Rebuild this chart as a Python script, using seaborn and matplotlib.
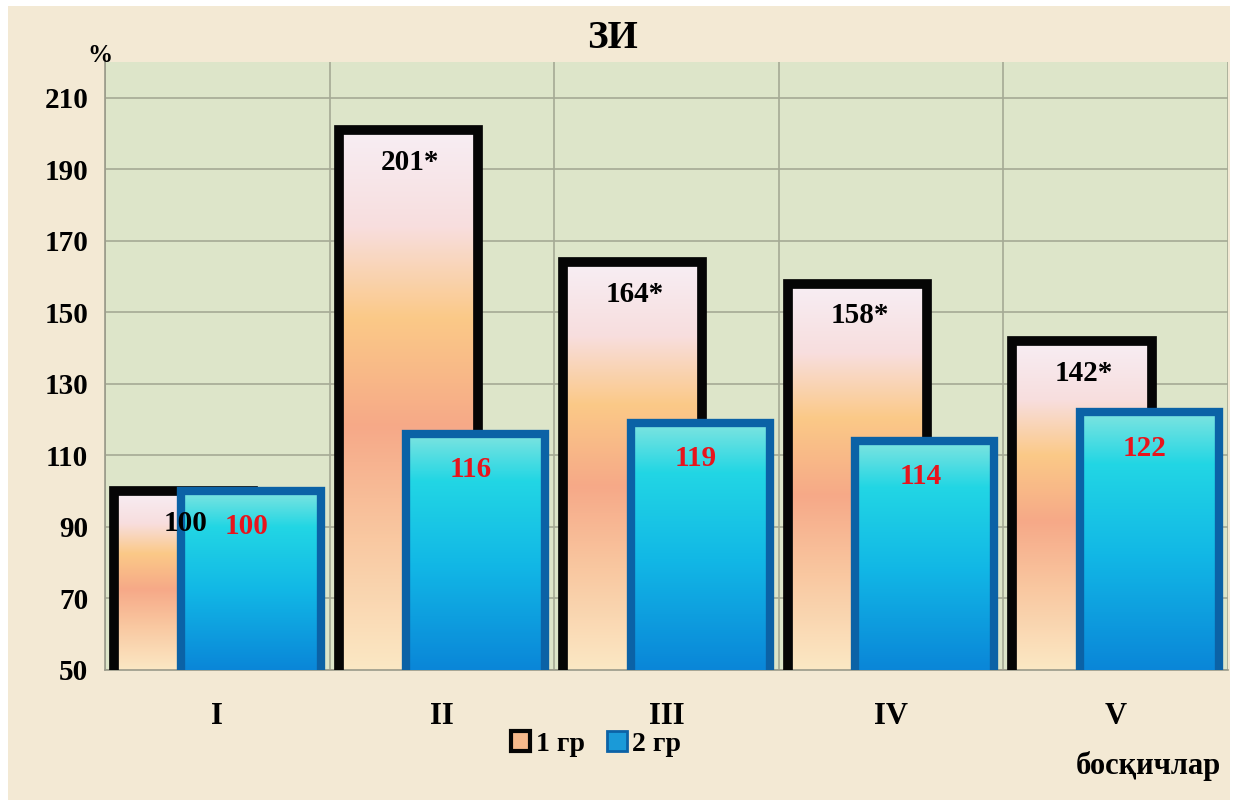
import numpy as np
import pandas as pd
import matplotlib
matplotlib.use("Agg")
import matplotlib.pyplot as plt
import seaborn as sns
from matplotlib.colors import LinearSegmentedColormap
from matplotlib.patches import Rectangle

# ---- data ----
stages = ["I", "II", "III", "IV", "V"]
group_names = ["1 гр", "2 гр"]
group1 = [100, 201, 164, 158, 142]
group2 = [100, 116, 119, 114, 122]
labels1 = ["100", "201*", "164*", "158*", "142*"]
labels2 = ["100", "116", "119", "114", "122"]
yticks = [50, 70, 90, 110, 130, 150, 170, 190, 210]

sns.set_theme(style="white")
plt.rcParams['font.family'] = ['Liberation Serif', 'DejaVu Serif']
plt.rcParams['font.weight'] = 'bold'
plt.rcParams['text.color'] = 'black'
plt.rcParams['xtick.labelcolor'] = 'black'
plt.rcParams['ytick.labelcolor'] = 'black'

df = pd.DataFrame({
    "stage": stages * 2,
    "value": group1 + group2,
    "group": [group_names[0]] * 5 + [group_names[1]] * 5,
})

fig = plt.figure(figsize=(12.38, 8.06), dpi=100)
fig.patch.set_facecolor("white")
fig.add_artist(Rectangle((8 / 1238, 6 / 806), 1222 / 1238, 794 / 806,
                         transform=fig.transFigure, facecolor="#f3e9d4",
                         edgecolor="none", zorder=-10))
ax = fig.add_axes([105 / 1238, (806 - 670) / 806, (1228 - 105) / 1238, (670 - 62) / 806])
ax.set_facecolor("#dde5c9")

sns.barplot(data=df, x="stage", y="value", hue="group", ax=ax, dodge=True,
            width=0.8, palette=["#f7c89a", "#19b4e0"], legend=False,
            saturation=1, zorder=3)

cmap1 = LinearSegmentedColormap.from_list(
    "g1", [(0, "#fbe8c4"), (0.25, "#f9c7a0"), (0.45, "#f6a988"), (0.65, "#fbc987"),
           (0.82, "#f8dede"), (1, "#f7eef4")])
cmap2 = LinearSegmentedColormap.from_list(
    "g2", [(0, "#0a86d8"), (0.45, "#12b8e6"), (0.8, "#22d6e4"), (1, "#7fe4e0")])

bar_w = 0.62
offset = 0.15
patches = list(ax.patches)
n = len(stages)
for i, p in enumerate(patches[:2 * n]):
    g = i // n
    cat = i % n
    center = cat + (-offset if g == 0 else offset)
    p.set_width(bar_w)
    p.set_x(center - bar_w / 2)
    if g == 0:
        p.set_edgecolor("#050505")
        p.set_linewidth(7)
        p.set_zorder(3)
        cm = cmap1
    else:
        p.set_edgecolor("#0b62a6")
        p.set_linewidth(6)
        p.set_zorder(5)
        cm = cmap2
    x0, y0 = p.get_x(), p.get_y()
    h = p.get_height()
    grad = np.linspace(0, 1, 256).reshape(-1, 1)
    im = ax.imshow(grad, cmap=cm, origin="lower", aspect="auto",
                   extent=[x0, x0 + bar_w, 50, y0 + h],
                   zorder=p.get_zorder() - 0.5 if g == 0 else p.get_zorder() - 0.2,
                   interpolation="bilinear")
    im.set_clip_path(p)
    p.set_facecolor("none")
    # value label
    if g == 0:
        ax.text(center + 0.01, y0 + h - 9, labels1[cat], ha="center", va="center",
                fontsize=21, fontweight="bold", color="black", zorder=7)
    else:
        ax.text(center - 0.02, y0 + h - 10, labels2[cat], ha="center", va="center",
                fontsize=21, fontweight="bold", color="#e8141c", zorder=7)

ax.set_xlim(-0.5, 4.5)
ax.set_ylim(50, 220)
ax.set_yticks(yticks)
ax.set_yticklabels([str(v) for v in yticks], fontsize=21, fontweight="bold")
ax.set_xticks(range(n))
ax.set_xticklabels(stages, fontsize=22, fontweight="bold")
ax.set_xticks(np.arange(-0.5, 5.0, 0.5), minor=True)
ax.set_xlabel("")
ax.set_ylabel("")
ax.tick_params(axis="x", which="major", length=0, pad=23, labelcolor="black")
ax.tick_params(axis="x", which="minor", length=6, color="#9a9a8a")
ax.tick_params(axis="y", length=9, color="#9a9a8a", pad=3, labelcolor="black")
ax.grid(True, axis="y", color="#a5aa95", linewidth=1.2, zorder=0)
ax.grid(True, axis="x", which="minor", color="#a5aa95", linewidth=1.2, zorder=0)
ax.set_axisbelow(True)
for s in ["top", "right"]:
    ax.spines[s].set_visible(False)
for s in ["left", "bottom"]:
    ax.spines[s].set_color("#9a9a8a")
    ax.spines[s].set_linewidth(1.2)

fig.text(612 / 1238, 1 - 38 / 806, "ЗИ", ha="center", va="center",
         fontsize=28, fontweight="bold", color="black")
fig.text(100 / 1238, 1 - 55 / 806, "%", ha="center", va="center",
         fontsize=18, fontweight="bold", color="black")
fig.text(1148 / 1238, 1 - 766 / 806, "босқичлар", ha="center", va="center",
         fontsize=22, fontweight="bold", color="black")

handles = [Rectangle((0, 0), 1, 1, facecolor="#f6b98c", edgecolor="#050505", linewidth=3),
           Rectangle((0, 0), 1, 1, facecolor="#1a9ad8", edgecolor="#0b62a6", linewidth=2)]
leg = fig.legend(handles, group_names, loc="center", bbox_to_anchor=(596 / 1238, 1 - 744 / 806),
                 ncol=2, frameon=False, handlelength=0.7, handleheight=0.7,
                 handletextpad=0.2, columnspacing=0.8, borderpad=0.1,
                 prop={"weight": "bold", "size": 20})
for t in leg.get_texts():
    t.set_color("black")

fig.savefig("out.png", dpi=100, facecolor=fig.get_facecolor())
